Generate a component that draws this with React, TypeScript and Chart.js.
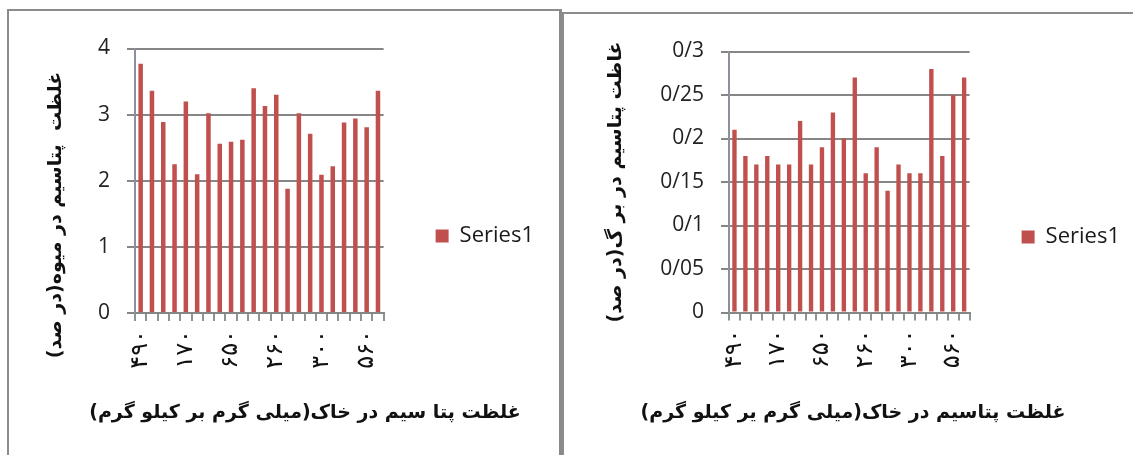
import { useEffect, useRef } from "react";
import { Chart, registerables } from "chart.js";

Chart.register(...registerables);

// Soil potassium levels (mg/kg); one label under every fourth bar
const soilTickLabels = ["۴۹۰", "۱۷۰", "۶۵۰", "۲۶۰", "۳۰۰", "۵۶۰"];
const tickLabelStep = 4;

// Potassium concentration in fruit (%)
const fruitPotassium = [
  3.77, 3.36, 2.89, 2.25, 3.2, 2.1, 3.02, 2.56, 2.59, 2.62, 3.4,
  3.13, 3.3, 1.88, 3.02, 2.71, 2.09, 2.22, 2.88, 2.94, 2.81, 3.36,
];

// Potassium concentration in leaves (%)
const leafPotassium = [
  0.21, 0.18, 0.17, 0.18, 0.17, 0.17, 0.22, 0.17, 0.19, 0.23, 0.2,
  0.27, 0.16, 0.19, 0.14, 0.17, 0.16, 0.16, 0.28, 0.18, 0.25, 0.27,
];

const seriesName = "Series1";

const fruitYRange = { min: 0, max: 4, step: 1 };
const leafYRange = { min: 0, max: 0.3, step: 0.05 };

const fruitTitles = {
  y: "غلظت  پتاسیم در میوه(در صد)",
  x: "غلظت پتا سیم در خاک(میلی گرم بر کیلو گرم)",
};
const leafTitles = {
  y: "غاظت پتاسیم در بر گ(در صد)",
  x: "غلظت پتاسیم در خاک(میلی گرم یر کیلو گرم)",
};

const BAR_RED = "#C0504D";
const GRID_GREY = "#868686";
const LATIN_FONT = "'Open Sans', 'Liberation Sans', sans-serif";
const ARABIC_FONT = "'DejaVu Sans', sans-serif";

const buildCategories = (n: number) =>
  Array.from({ length: n }, (_, i) =>
    i % tickLabelStep === 0 ? soilTickLabels[i / tickLabelStep] ?? "" : ""
  );

const formatPercent = (v: number | string) => {
  const n = Number(v);
  if (n === 0) return "0";
  return String(parseFloat(n.toFixed(2))).replace(".", "/");
};

// Draws the two axis captions (right-to-left text) at fixed spots on the canvas
const axisCaptions = {
  id: "axisCaptions",
  afterDraw(chart: any, _args: any, opts: any) {
    const { ctx } = chart;
    ctx.save();
    ctx.fillStyle = "#111";
    ctx.font = opts.font;
    ctx.textAlign = "center";
    ctx.textBaseline = "middle";
    ctx.direction = "rtl";
    ctx.fillText(opts.xText, opts.xPos.x, opts.xPos.y);
    ctx.translate(opts.yPos.x, opts.yPos.y);
    ctx.rotate(-Math.PI / 2);
    ctx.fillText(opts.yText, 0, 0);
    ctx.restore();
  },
};

type PanelProps = {
  values: number[];
  yRange: { min: number; max: number; step: number };
  titles: { x: string; y: string };
  frame: { left: number; top: number; width: number; height: number };
  padding: { left: number; top: number; right: number; bottom: number };
  yAxisWidth: number;
  legendOffset: number;
  captions: { x: { x: number; y: number }; y: { x: number; y: number } };
};

function BarPanel(p: PanelProps) {
  const ref = useRef<HTMLCanvasElement | null>(null);

  useEffect(() => {
    if (!ref.current) return;
    const chart = new Chart(ref.current, {
      type: "bar",
      data: {
        labels: buildCategories(p.values.length),
        datasets: [
          {
            label: seriesName,
            data: p.values,
            backgroundColor: BAR_RED,
            borderWidth: 0,
            barPercentage: 0.4,
            categoryPercentage: 1,
          },
        ],
      },
      options: {
        responsive: false,
        animation: false,
        events: [],
        layout: { padding: p.padding },
        scales: {
          x: {
            offset: true,
            grid: {
              display: true,
              offset: true,
              drawOnChartArea: false,
              drawTicks: true,
              tickLength: 8,
              color: "#8a9696",
              lineWidth: 2,
            },
            border: { display: true, color: GRID_GREY, width: 2 },
            ticks: {
              autoSkip: false,
              minRotation: 90,
              maxRotation: 90,
              padding: 9,
              color: "#111",
              font: { family: ARABIC_FONT, size: 24 },
            },
            afterFit: (s: any) => {
              s.height = 64;
            },
          },
          y: {
            min: p.yRange.min,
            max: p.yRange.max,
            ticks: {
              stepSize: p.yRange.step,
              padding: 17,
              color: "#222",
              font: { family: LATIN_FONT, size: 21 },
              callback: (v: any) => formatPercent(v),
            },
            grid: {
              color: GRID_GREY,
              lineWidth: 2,
              tickLength: 8,
              drawTicks: true,
            },
            border: { display: true, color: "#8f8f9c", width: 2 },
            afterFit: (s: any) => {
              s.width = p.yAxisWidth;
            },
          },
        },
        plugins: {
          tooltip: { enabled: false },
          legend: {
            position: "right",
            maxWidth: 220,
            title: {
              display: true,
              text: "",
              padding: { top: p.legendOffset, bottom: 0 },
            },
            labels: {
              boxWidth: 13,
              boxHeight: 13,
              padding: 52,
              color: "#1a1a1a",
              font: { family: LATIN_FONT, size: 22 },
            },
          },
          axisCaptions: {
            font: `bold 19px ${ARABIC_FONT}`,
            xText: p.titles.x,
            yText: p.titles.y,
            xPos: p.captions.x,
            yPos: p.captions.y,
          },
        } as any,
      },
      plugins: [axisCaptions as any],
    });
    return () => chart.destroy();
  }, []);

  return (
    <canvas
      ref={ref}
      width={p.frame.width}
      height={p.frame.height}
      style={{
        position: "absolute",
        left: p.frame.left,
        top: p.frame.top,
        width: p.frame.width,
        height: p.frame.height,
      }}
    />
  );
}

export default function App() {
  return (
    <div
      style={{
        position: "fixed",
        left: 0,
        top: 0,
        width: 1133,
        height: 455,
        background: "#fff",
        overflow: "hidden",
      }}
    >
      <div
        style={{
          position: "absolute",
          left: 7,
          top: 9,
          width: 550,
          height: 460,
          borderTop: "2px solid #8c8c8c",
          borderLeft: "2px solid #8c8c8c",
          borderRight: "3px solid #8a8a8a",
        }}
      />
      <div
        style={{
          position: "absolute",
          left: 562,
          top: 12,
          width: 600,
          height: 460,
          borderTop: "2px solid #8c8c8c",
          borderLeft: "2px solid #8c8c8c",
        }}
      />
      <BarPanel
        values={fruitPotassium}
        yRange={fruitYRange}
        titles={fruitTitles}
        frame={{ left: 9, top: 11, width: 535, height: 444 }}
        padding={{ left: 89, top: 37.5, right: 0, bottom: 78 }}
        yAxisWidth={37}
        legendOffset={32}
        captions={{ x: { x: 296, y: 402 }, y: { x: 47, y: 204 } }}
      />
      <BarPanel
        values={leafPotassium}
        yRange={leafYRange}
        titles={leafTitles}
        frame={{ left: 565, top: 14, width: 565, height: 441 }}
        padding={{ left: 94, top: 37.5, right: 0, bottom: 78.5 }}
        yAxisWidth={70}
        legendOffset={31.5}
        captions={{ x: { x: 288, y: 399 }, y: { x: 51, y: 168 } }}
      />
    </div>
  );
}
